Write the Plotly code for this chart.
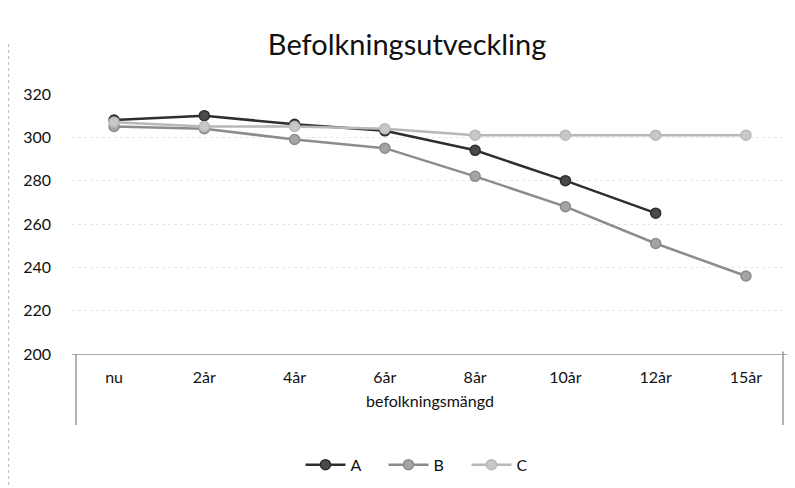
import plotly.graph_objects as go

categories = ["nu", "2år", "4år", "6år", "8år", "10år", "12år", "15år"]
x_title = "befolkningsmängd"
series_A = [308, 310, 306, 303, 294, 280, 265, None]
series_B = [305, 304, 299, 295, 282, 268, 251, 236]
series_C = [307, 305, 305, 304, 301, 301, 301, 301]
y_ticks = [200, 220, 240, 260, 280, 300, 320]

FONT = "Lato, 'Open Sans', sans-serif"

fig = go.Figure()
styles = [
    ("A", series_A, "#2e2e2e", "#4a4a4a"),
    ("B", series_B, "#8c8c8c", "#a4a4a4"),
    ("C", series_C, "#b8b8b8", "#c8c8c8"),
]
for name, vals, lc, mc in styles:
    fig.add_trace(go.Scatter(
        x=categories, y=vals, name=name, mode="lines+markers",
        line=dict(color=lc, width=2.5),
        marker=dict(symbol="circle", size=10, color=mc,
                    line=dict(color=lc, width=1.5)),
        connectgaps=False,
    ))

fig.update_layout(
    width=795, height=488,
    paper_bgcolor="white", plot_bgcolor="white",
    margin=dict(l=64, r=15, t=86, b=142, autoexpand=False),
    title=dict(text="Befolkningsutveckling", x=0.502, xanchor="center",
               y=0.924, yanchor="middle",
               font=dict(family=FONT, size=29, color="#111111")),
    font=dict(family=FONT, size=16, color="#111111"),
    showlegend=True,
    legend=dict(orientation="h", x=0.493, xanchor="center",
                yref="container", y=0.064, yanchor="middle",
                font=dict(size=16), itemwidth=40, traceorder="normal",
                entrywidth=28, entrywidthmode="pixels"),
    xaxis=dict(type="category", showline=True, linecolor="#aaaaaa",
               linewidth=1, showgrid=False, ticks="", automargin=False,
               tickfont=dict(size=16), ticklabelstandoff=9,
               title=dict(text=x_title, standoff=10,
                          font=dict(size=16, color="#111111"))),
    yaxis=dict(range=[200, 320], tickvals=y_ticks, showgrid=True,
               gridcolor="#e6e6e6", griddash="dot", gridwidth=1,
               zeroline=False, showline=False, ticks="", automargin=False,
               tickfont=dict(size=16), ticklabelstandoff=20),
    shapes=[
        dict(type="line", xref="paper", yref="paper",
             x0=-0.0885, x1=-0.0885, y0=-0.55, y1=1.2,
             line=dict(color="#bbbbbb", width=1, dash="dot")),
        dict(type="line", xref="paper", yref="paper",
             x0=0.0056, x1=0.0056, y0=0, y1=-0.273,
             line=dict(color="#999999", width=1.5)),
        dict(type="line", xref="paper", yref="paper",
             x0=0.993, x1=0.993, y0=0.01, y1=-0.273,
             line=dict(color="#999999", width=1.5)),
    ],
)

fig.write_html("out.html")
